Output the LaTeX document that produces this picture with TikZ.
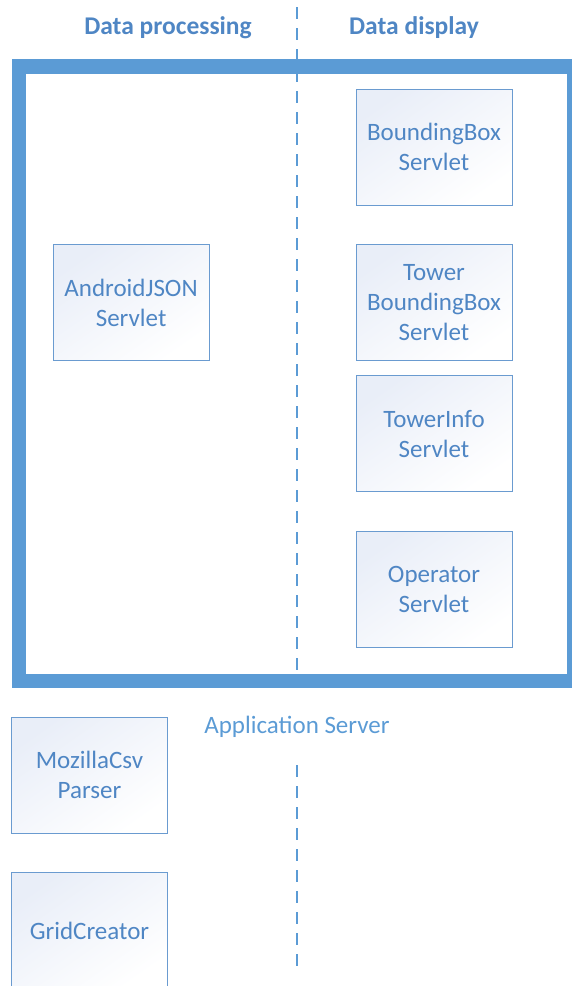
\documentclass[tikz,border=0pt]{standalone}
\usepackage{fontspec}
\setmainfont{Carlito}
\usetikzlibrary{positioning}
\definecolor{frameblue}{HTML}{5B9BD5}
\definecolor{textblue}{HTML}{4F86C4}
\definecolor{boxline}{HTML}{6A9BD0}
\definecolor{boxshade}{HTML}{E9EEF8}

\begin{document}
\begin{tikzpicture}[x=1pt, y=-1pt, node distance=39pt]
\tikzstyle{servlet} = [rectangle, minimum width=156pt, minimum height=116pt, align=center, draw=boxline, line width=0.9pt, top color=boxshade, bottom color=white, shading angle=35, text=textblue, font=\fontsize{25}{30}\selectfont]
\tikzstyle{header} = [text=textblue, font=\fontsize{25.5}{28}\selectfont\bfseries]
\tikzstyle{divider} = [frameblue, line width=1.8pt, dash pattern=on 12pt off 9pt]

\useasboundingbox (0,0) rectangle (571,986);

% headers
\node (proc) [header] at (168,28) {Data processing};
\node (disp) [header] at (414,28) {Data display};

% dashed separator
\coordinate (divtop) at (297,7);
\coordinate (divmid) at (297,674);
\coordinate (divlow) at (297,765);
\coordinate (divend) at (297,966);
\draw[divider] (divtop) -- (divmid);
\draw[divider] (divlow) -- (divend);

% application server frame
\draw[frameblue, line width=14.5pt] (19,66.5) rectangle (574,681);
\node (appserver) [text=frameblue, font=\fontsize{25}{28}\selectfont] at (297,727) {Application Server};

% data display servlets
\node (bbox) [servlet] at (434,147) {BoundingBox\\Servlet};
\node (towerbbox) [servlet, below=of bbox] {Tower\\BoundingBox\\Servlet};
\node (towerinfo) [servlet, below=14pt of towerbbox] {TowerInfo\\Servlet};
\node (operator) [servlet, below=of towerinfo] {Operator\\Servlet};

% data processing
\node (android) [servlet, left=146pt of towerbbox] {AndroidJSON\\Servlet};
\node (mozilla) [servlet] at (89.5,775) {MozillaCsv\\Parser};
\node (grid) [servlet, below=of mozilla] {GridCreator};

\end{tikzpicture}
\end{document}
